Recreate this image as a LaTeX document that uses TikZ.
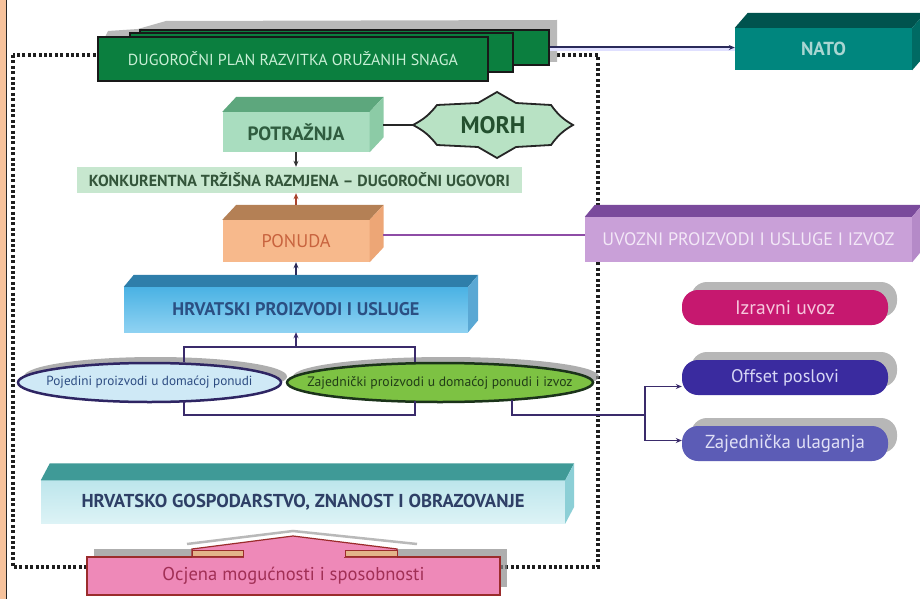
\documentclass[tikz,border=0pt]{standalone}
\usepackage{fontspec}
\setmainfont{PT Sans}
\usetikzlibrary{arrows.meta,shadows,calc,shapes.geometric}
\newcommand{\fitt}[2]{\resizebox{#1}{!}{#2}}
\newcommand{\dcube}[5]{%
 \fill[#4] (#1.north west) -- ++(#2,#3) -- ([shift={(#2,#3)}]#1.north east) -- (#1.north east) -- cycle;
 \fill[#5] (#1.north east) -- ++(#2,#3) -- ([shift={(#2,#3)}]#1.south east) -- (#1.south east) -- cycle;}
\definecolor{peach}{HTML}{F6C29C}
\definecolor{framec}{HTML}{1E1E1E}
\definecolor{planG}{HTML}{0B7F3F}
\definecolor{planTxt}{HTML}{C9EFD6}
\definecolor{natoF}{HTML}{00867E}
\definecolor{natoT}{HTML}{00534E}
\definecolor{natoR}{HTML}{006A63}
\definecolor{natoTxt}{HTML}{A9D6D2}
\definecolor{potF}{HTML}{A9DDBF}
\definecolor{potT}{HTML}{5DA77D}
\definecolor{potR}{HTML}{8CCBA6}
\definecolor{potTxt}{HTML}{2F5C3F}
\definecolor{morhF}{HTML}{B8E2C4}
\definecolor{morhTxt}{HTML}{24502F}
\definecolor{konF}{HTML}{C7E7CF}
\definecolor{konTxt}{HTML}{33553A}
\definecolor{ponF}{HTML}{F7B98C}
\definecolor{ponT}{HTML}{B48055}
\definecolor{ponR}{HTML}{EDA676}
\definecolor{ponTxt}{HTML}{C8633E}
\definecolor{ponArr}{HTML}{A8432C}
\definecolor{uvF}{HTML}{C9A0D8}
\definecolor{uvT}{HTML}{7A4A9C}
\definecolor{uvR}{HTML}{B58AC8}
\definecolor{uvTxt}{HTML}{F3E8F7}
\definecolor{ponLine}{HTML}{8E4CA6}
\definecolor{hrvF1}{HTML}{4AB2E4}
\definecolor{hrvF2}{HTML}{8FD2F2}
\definecolor{hrvT}{HTML}{2E7EAA}
\definecolor{hrvR}{HTML}{5AA8D4}
\definecolor{hrvTxt}{HTML}{2B4F82}
\definecolor{pojF}{HTML}{CFE9F6}
\definecolor{ellB}{HTML}{2E2563}
\definecolor{pojTxt}{HTML}{2D4C82}
\definecolor{zajF}{HTML}{7DC243}
\definecolor{zajB}{HTML}{1B331A}
\definecolor{zajTxt}{HTML}{213D17}
\definecolor{izF}{HTML}{C6186F}
\definecolor{izTxt}{HTML}{F6C8DD}
\definecolor{offF}{HTML}{3A2B9F}
\definecolor{offTxt}{HTML}{D6D6F5}
\definecolor{zulF}{HTML}{5C5CB6}
\definecolor{zulTxt}{HTML}{E0E0F6}
\definecolor{gospF1}{HTML}{BDE6EC}
\definecolor{gospF2}{HTML}{DDF3F6}
\definecolor{gospT}{HTML}{3F9A97}
\definecolor{gospR}{HTML}{8CCFD6}
\definecolor{gospTxt}{HTML}{2E3F66}
\definecolor{ocF}{HTML}{EE89B8}
\definecolor{ocB}{HTML}{9B2C2C}
\definecolor{ocTxt}{HTML}{A12F55}
\definecolor{ledge}{HTML}{E3B48A}
\definecolor{connC}{HTML}{3A2B6B}
\definecolor{navyL}{HTML}{2A2A5A}
\begin{document}
\begin{tikzpicture}[x=1pt,y=-1pt,
  front/.style={inner sep=0pt},
  planbox/.style={fill=planG,draw=black!90,line width=1.2pt,inner sep=0pt},
  ell/.style={ellipse,line width=2.5pt,inner sep=0pt,
    drop shadow={shadow xshift=6pt,shadow yshift=6pt,fill=black!45,opacity=0.7}},
  pill/.style={rounded corners=16pt,minimum width=206pt,minimum height=35pt,inner sep=0pt,
    drop shadow={shadow xshift=9pt,shadow yshift=8pt,fill=black!40,opacity=0.7}},
  arr/.style={-{Stealth[length=6pt,width=5pt]},line width=1.4pt},
  conn/.style={draw=connC,line width=2.2pt},
  framed/.style={draw=framec,line width=3.2pt,dash pattern=on 3pt off 2.4pt}]
\useasboundingbox (0,0) rectangle (920,599);
\fill[white] (0,0) rectangle (920,599);
\fill[peach] (0,0) rectangle (6,599);
\draw[line width=1.6pt,black!85] (6.5,0) -- (6.5,599);
\draw[framed] (13,55) rectangle (598,567);
% plan stack
\fill[gray!55] (105,37) -- (108,31) -- (138,29) -- (166,21) -- (557,20) -- (557,62) -- (530,62) -- cycle;
\node[planbox,minimum width=409pt,minimum height=35pt] (plan3) at (344.5,47.5) {};
\node[planbox,minimum width=383pt,minimum height=39pt] (plan2) at (321.5,52.5) {};
\node[planbox,minimum width=390pt,minimum height=44pt,text=planTxt] (plan1) at (293,59)
  {\fitt{330pt}{DUGOROČNI PLAN RAZVITKA ORUŽANIH SNAGA}};
% NATO
\node[front,fill=natoF,minimum width=177pt,minimum height=42pt,text=natoTxt] (nato) at (823.5,49)
  {\fitt{45pt}{\bfseries NATO}};
\dcube{nato}{13}{-15}{natoT}{natoR}
\draw[line width=3pt,blue!12] (plan3.east |- 0,49.5) -- (nato.west |- 0,49.5);
\draw[arr,draw=navyL,line width=2pt] (plan3.east) -- (plan3.east -| nato.west);
% POTRAZNJA
\node[front,fill=potF,minimum width=147pt,minimum height=40pt,text=potTxt] (pot) at (296,132)
  {\fitt{97pt}{\bfseries POTRAŽNJA}};
\dcube{pot}{14}{-15}{potT}{potR}
% MORH
\filldraw[fill=morhF,draw=black!85,line width=1.8pt]
  (413,125) to[bend right=12] (437,105) -- (478,103) -- (497,92) -- (516,103) -- (551,105)
  to[bend right=12] (573,125) to[bend right=12] (551,145) -- (516,147) -- (497,158)
  -- (478,147) -- (437,145) to[bend right=12] (413,125) -- cycle;
\node[minimum width=160pt,minimum height=66pt,inner sep=0pt,text=morhTxt] (morh) at (493,125)
  {\fitt{65pt}{\bfseries MORH}};
\coordinate (potE) at (383,125);
\draw[line width=2pt,black!85] (potE) -- (morh.west);
% KONKURENTNA
\node[fill=konF,minimum width=445pt,minimum height=26pt,inner sep=0pt,text=konTxt] (kon) at (299.5,180)
  {\fitt{421pt}{\bfseries KONKURENTNA TRŽIŠNA RAZMJENA – DUGOROČNI UGOVORI}};
\draw[arr,draw=black!80] (pot.south) -- (pot.south |- kon.north);
% PONUDA
\node[front,fill=ponF,minimum width=147pt,minimum height=42pt,text=ponTxt] (pon) at (296,241)
  {\fitt{69pt}{PONUDA}};
\dcube{pon}{14}{-15}{ponT}{ponR}
\draw[arr,draw=ponArr] ([yshift=15pt]pon.north) -- (pon.north |- kon.south);
% UVOZNI
\node[front,fill=uvF,minimum width=327pt,minimum height=45pt,text=uvTxt] (uvoz) at (748.5,239.5)
  {\fitt{292pt}{UVOZNI PROIZVODI I USLUGE I IZVOZ}};
\dcube{uvoz}{10}{-12}{uvT}{uvR}
\coordinate (ponE) at (383,235);
\draw[line width=2.2pt,ponLine] (ponE) -- (ponE -| uvoz.west);
% HRVATSKI PROIZVODI
\node[front,top color=hrvF1,bottom color=hrvF2,minimum width=344pt,minimum height=45pt,text=hrvTxt] (hrv) at (296,309.5)
  {\fitt{247pt}{\bfseries HRVATSKI PROIZVODI I USLUGE}};
\dcube{hrv}{10}{-12}{hrvT}{hrvR}
\draw[arr,draw=navyL] ([yshift=12pt]hrv.north) -- (pon.south);
% ellipses
\node[ell,fill=pojF,draw=ellB,minimum width=263pt,minimum height=39pt,
  label={[text=pojTxt,inner sep=0pt]center:\fitt{206pt}{Pojedini proizvodi u domaćoj ponudi}}] (poj) at (149.5,382.5) {};
\node[ell,fill=zajF,draw=zajB,minimum width=306pt,minimum height=39pt,
  label={[text=zajTxt,inner sep=0pt]center:\fitt{265pt}{Zajednički proizvodi u domaćoj ponudi i izvoz}}] (zaj) at (440,382.5) {};
\coordinate (brL) at (184,347);
\coordinate (brR) at (415,347);
\coordinate (brT) at (296,347);
\coordinate (brBL) at (184,415);
\coordinate (brBR) at (415,415);
\coordinate (brZ) at (512,415);
\coordinate (split) at (645,415);
\draw[conn] (poj.north -| brL) -- (brL) -- (brR) -- (zaj.north -| brR);
\draw[arr,draw=connC] (brT) -- (brT |- hrv.south);
\draw[conn,shorten <=-2pt,shorten >=-2pt] (poj.south -| brBL) -- (brBL) -- (brBR) -- (zaj.south -| brBR);
\draw[conn,shorten <=-3pt] (zaj.south -| brZ) -- (brZ) -- (split);
% pills
\node[pill,fill=izF,text=izTxt] (izr) at (785,307.5) {\fitt{100pt}{Izravni uvoz}};
\node[pill,fill=offF,text=offTxt] (off) at (785,377.5) {\fitt{108pt}{Offset poslovi}};
\node[pill,fill=zulF,text=zulTxt] (zul) at (785,443.5) {\fitt{160pt}{Zajednička ulaganja}};
\draw[conn,arr,draw=connC] (split) |- ([yshift=-9pt]off.west);
\draw[conn,arr,draw=connC] (split) |- ([yshift=3pt]zul.west);
% HRVATSKO GOSPODARSTVO
\node[front,top color=gospF1,bottom color=gospF2,minimum width=524pt,minimum height=43pt,text=gospTxt] (gosp) at (303,502)
  {\fitt{443pt}{\bfseries HRVATSKO GOSPODARSTVO, ZNANOST I OBRAZOVANJE}};
\dcube{gosp}{9}{-17}{gospT}{gospR}
% Ocjena
\draw[line width=2.5pt,gray!55] (187,544) -- (293,531) -- (417,544);
\node[fill=ocF,draw=ocB,line width=2pt,minimum width=413pt,minimum height=38pt,inner sep=0pt,text=ocTxt,
  drop shadow={shadow xshift=7pt,shadow yshift=8pt,fill=black!45,opacity=0.7}] (ocj) at (293.5,576)
  {\fitt{262pt}{Ocjena mogućnosti i sposobnosti}};
\filldraw[fill=ocF,draw=ocB,line width=1.2pt] (192,557) -- (192,549) -- (293,536) -- (397,549) -- (397,557);
\fill[ocF] (244,550) rectangle (344,559);
\filldraw[fill=ledge,draw=ocB,line width=0.8pt] (192,550) rectangle (243,556);
\filldraw[fill=ledge,draw=ocB,line width=0.8pt] (345,550) rectangle (397,556);
\end{tikzpicture}
\end{document}
